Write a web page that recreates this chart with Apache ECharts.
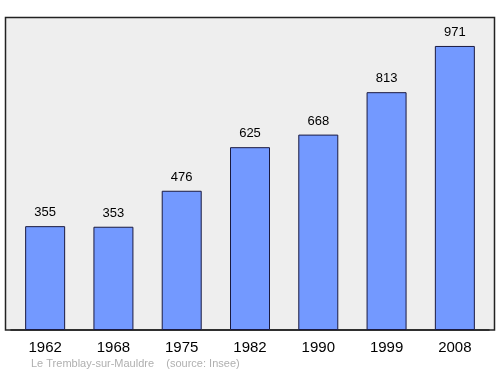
<!DOCTYPE html>
<html><head><meta charset="utf-8">
<script src="https://cdn.jsdelivr.net/npm/echarts@6/dist/echarts.min.js"></script>
<style>html,body{margin:0;padding:0;background:#fff}#c{width:500px;height:374px}</style>
</head><body><div id="c"></div>
<script>
const categories = ['1962','1968','1975','1982','1990','1999','2008'];
const population = [355,353,476,625,668,813,971];
const sourceText = 'Le Tremblay-sur-Mauldre    (source: Insee)';

const chart = echarts.init(document.getElementById('c'));
chart.setOption({
  animation: false,
  backgroundColor: '#ffffff',
  graphic: [
    {type:'rect', z:-10, shape:{x:5.5,y:17.5,width:489,height:312.5},
     style:{fill:'#eeeeee', stroke:'#222222', lineWidth:1.5}},
    {type:'text', left:31, top:358, style:{text:sourceText, fill:'#b0b0b0', font:'11px "Liberation Sans", Arial, sans-serif'}}
  ],
  grid: {left:11, width:478, top:17, bottom:44, containLabel:false},
  xAxis: {
    type:'category', data:categories,
    axisLine:{show:true, lineStyle:{color:'#222', width:1.5}},
    axisTick:{show:false},
    axisLabel:{color:'#000', fontSize:15, margin:10, fontFamily:'"Liberation Sans", Arial, sans-serif'}
  },
  yAxis: {type:'value', min:0, max:1070, show:false, splitLine:{show:false}},
  series: [{
    type:'bar', data:population, barWidth:40,
    itemStyle:{color:'#7399ff', borderColor:'#1a1a40', borderWidth:1},
    label:{show:true, position:'top', distance:7, color:'#000', fontSize:13,
      fontFamily:'"Liberation Sans", Arial, sans-serif'}
  }]
});
</script></body></html>
